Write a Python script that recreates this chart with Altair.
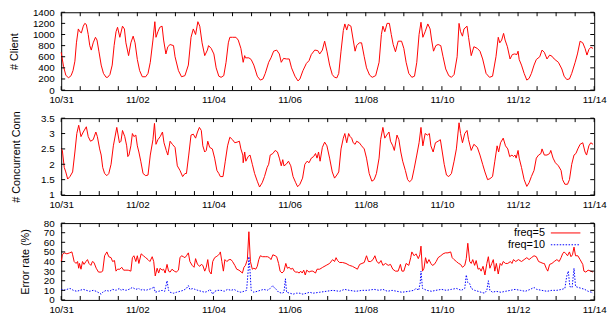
import altair as alt
import pandas as pd

# ---------------- axis ticks / labels ----------------
day_ticks = [0, 2, 4, 6, 8, 10, 12, 14]
day_labels = ["10/31", "11/02", "11/04", "11/06", "11/08", "11/10", "11/12", "11/14"]
half_day_ticks = [0, 0.5, 1, 1.5, 2, 2.5, 3, 3.5, 4, 4.5, 5, 5.5, 6, 6.5, 7, 7.5,
                  8, 8.5, 9, 9.5, 10, 10.5, 11, 11.5, 12, 12.5, 13, 13.5, 14]
client_ticks = [0, 200, 400, 600, 800, 1000, 1200, 1400]
conn_ticks = [1, 1.5, 2, 2.5, 3, 3.5]
err_ticks = [0, 10, 20, 30, 40, 50, 60, 70, 80]

# ---------------- # Client ----------------
client_day = [0.00, 0.06, 0.12, 0.19, 0.26, 0.31, 0.36, 0.40, 0.45, 0.49, 0.53, 0.58, 0.62, 0.66,
              0.71, 0.75, 0.79, 0.84, 0.90, 0.94, 0.99, 1.05, 1.11, 1.18, 1.22, 1.28, 1.34, 1.39,
              1.44, 1.48, 1.54, 1.61, 1.66, 1.70, 1.77, 1.83, 1.89, 1.94, 2.00, 2.06, 2.13, 2.22,
              2.28, 2.34, 2.41, 2.46, 2.49, 2.54, 2.59, 2.65, 2.69, 2.75, 2.80, 2.86, 2.95, 2.99,
              3.08, 3.16, 3.25, 3.34, 3.41, 3.47, 3.53, 3.59, 3.64, 3.70, 3.77, 3.84, 3.87, 3.94,
              4.01, 4.07, 4.14, 4.20, 4.27, 4.33, 4.39, 4.43, 4.50, 4.59, 4.65, 4.72, 4.78, 4.82,
              4.84, 4.93, 4.99, 5.06, 5.15, 5.23, 5.30, 5.36, 5.45, 5.51, 5.58, 5.66, 5.73, 5.78,
              5.84, 5.92, 5.99, 6.05, 6.14, 6.22, 6.27, 6.35, 6.44, 6.51, 6.57, 6.66, 6.74, 6.79,
              6.86, 6.92, 6.98, 7.05, 7.12, 7.18, 7.24, 7.29, 7.35, 7.41, 7.45, 7.50, 7.54, 7.61,
              7.67, 7.72, 7.76, 7.83, 7.89, 7.96, 8.02, 8.10, 8.17, 8.26, 8.35, 8.41, 8.45, 8.50,
              8.56, 8.62, 8.67, 8.72, 8.78, 8.85, 8.94, 9.00, 9.06, 9.13, 9.21, 9.28, 9.34, 9.40,
              9.45, 9.50, 9.56, 9.63, 9.69, 9.73, 9.78, 9.84, 9.90, 9.97, 10.03, 10.10, 10.18,
              10.25, 10.32, 10.40, 10.45, 10.49, 10.54, 10.58, 10.66, 10.70, 10.77, 10.84, 10.93,
              11.00, 11.07, 11.16, 11.25, 11.33, 11.42, 11.48, 11.52, 11.57, 11.62, 11.66, 11.72,
              11.79, 11.85, 11.91, 11.97, 12.00, 12.03, 12.09, 12.16, 12.23, 12.29, 12.35, 12.42,
              12.48, 12.57, 12.63, 12.69, 12.76, 12.83, 12.89, 12.95, 13.06, 13.15, 13.21, 13.28,
              13.35, 13.41, 13.50, 13.56, 13.63, 13.70, 13.76, 13.81, 13.86, 13.91, 13.97]
client_val = [680, 430, 270, 220, 260, 350, 520, 850, 1100, 1050, 1030, 1150, 1200, 1180,
              1000, 800, 720, 850, 950, 900, 700, 450, 300, 230, 230, 280, 450, 800,
              1050, 1130, 950, 1150, 1100, 850, 620, 850, 970, 850, 550, 350, 240, 240,
              300, 500, 900, 1230, 950, 1050, 1130, 1150, 900, 650, 780, 820, 800, 600,
              350, 240, 260, 450, 950, 1100, 1000, 1230, 1150, 850, 620, 720, 800, 750,
              650, 400, 250, 230, 260, 500, 850, 950, 950, 950, 900, 750, 500, 620,
              580, 580, 550, 450, 250, 180, 200, 300, 500, 580, 700, 720, 650, 500,
              570, 560, 560, 400, 250, 165, 200, 350, 480, 530, 640, 720, 710, 650,
              720, 880, 700, 450, 280, 230, 220, 300, 700, 1070, 1190, 1080, 1180, 1150,
              900, 700, 800, 850, 850, 600, 400, 270, 230, 260, 500, 1000, 1150, 1050,
              1200, 1200, 1000, 820, 690, 880, 880, 750, 500, 300, 230, 250, 500, 1000,
              1220, 950, 1050, 1190, 1100, 900, 700, 800, 820, 800, 600, 380, 260,
              230, 280, 600, 1200, 1050, 970, 1100, 1150, 950, 620, 780, 750,
              700, 560, 300, 230, 250, 600, 950, 850, 900, 1020, 900, 780,
              560, 640, 650, 640, 700, 550, 450, 300, 180, 210, 300, 450,
              550, 600, 720, 680, 560, 630, 610, 560, 500, 380, 250, 190,
              200, 300, 500, 650, 880, 850, 750, 630, 730, 770, 750]

# ---------------- # Concurrent Conn ----------------
conn_day = [0.00, 0.03, 0.08, 0.12, 0.17, 0.23, 0.30, 0.36, 0.41, 0.46, 0.52, 0.58, 0.66, 0.71,
            0.77, 0.84, 0.91, 0.95, 1.01, 1.05, 1.09, 1.14, 1.20, 1.25, 1.31, 1.37, 1.46, 1.53,
            1.57, 1.61, 1.67, 1.72, 1.75, 1.78, 1.83, 1.87, 1.91, 1.96, 2.00, 2.04, 2.09, 2.15,
            2.22, 2.28, 2.34, 2.41, 2.45, 2.49, 2.54, 2.60, 2.66, 2.70, 2.76, 2.80, 2.86, 2.92,
            2.99, 3.05, 3.12, 3.19, 3.25, 3.29, 3.35, 3.41, 3.47, 3.53, 3.58, 3.63, 3.68, 3.72,
            3.77, 3.81, 3.85, 3.90, 3.97, 4.03, 4.09, 4.14, 4.18, 4.25, 4.31, 4.37, 4.43, 4.50,
            4.56, 4.62, 4.68, 4.72, 4.77, 4.78, 4.82, 4.85, 4.91, 4.96, 5.02, 5.08, 5.15, 5.21,
            5.28, 5.34, 5.41, 5.45, 5.49, 5.56, 5.62, 5.68, 5.73, 5.78, 5.82, 5.85, 5.91, 5.97,
            6.03, 6.09, 6.16, 6.21, 6.27, 6.34, 6.40, 6.46, 6.51, 6.57, 6.63, 6.68, 6.72, 6.76,
            6.80, 6.86, 6.92, 6.98, 7.05, 7.12, 7.18, 7.24, 7.29, 7.35, 7.41, 7.45, 7.50, 7.55,
            7.59, 7.63, 7.67, 7.72, 7.76, 7.83, 7.89, 7.96, 8.02, 8.09, 8.16, 8.22, 8.28, 8.35,
            8.39, 8.45, 8.50, 8.55, 8.61, 8.65, 8.71, 8.75, 8.82, 8.87, 8.92, 8.97, 9.04, 9.10,
            9.15, 9.21, 9.27, 9.34, 9.40, 9.45, 9.50, 9.56, 9.62, 9.67, 9.71, 9.77, 9.83, 9.90,
            9.96, 10.01, 10.06, 10.12, 10.18, 10.25, 10.32, 10.38, 10.45, 10.49, 10.54, 10.60,
            10.66, 10.70, 10.77, 10.84, 10.93, 11.00, 11.07, 11.13, 11.20, 11.26, 11.33, 11.39,
            11.45, 11.49, 11.54, 11.61, 11.67, 11.73, 11.78, 11.84, 11.88, 11.92, 11.95, 12.00,
            12.03, 12.09, 12.16, 12.23, 12.29, 12.35, 12.42, 12.48, 12.54, 12.60, 12.63, 12.69,
            12.76, 12.83, 12.86, 12.92, 12.98, 13.06, 13.13, 13.17, 13.23, 13.30, 13.35, 13.41,
            13.47, 13.52, 13.57, 13.63, 13.70, 13.76, 13.80, 13.86, 13.91, 13.97]
conn_val = [2.50, 2.45, 1.90, 1.75, 1.52, 1.60, 1.75, 2.40, 3.00, 3.27, 2.90, 3.05, 3.22, 2.90,
            2.75, 2.80, 3.05, 2.90, 2.50, 2.30, 1.90, 1.70, 1.63, 1.70, 2.00, 2.60, 3.20, 2.70,
            2.75, 3.10, 2.90, 2.60, 2.25, 2.30, 2.60, 3.00, 2.90, 2.95, 2.60, 2.40, 2.10, 1.70,
            1.63, 1.65, 2.30, 2.80, 3.33, 2.65, 2.80, 2.90, 3.05, 2.70, 2.45, 2.30, 2.75, 2.65,
            2.55, 1.95, 1.80, 1.60, 1.70, 1.70, 2.30, 2.95, 2.98, 2.85, 3.05, 3.20, 3.10, 2.60,
            2.40, 2.45, 2.75, 2.55, 2.50, 2.20, 1.80, 1.70, 1.60, 1.60, 2.10, 2.60, 2.88, 2.80,
            2.70, 2.72, 2.75, 2.50, 2.30, 2.05, 2.40, 2.10, 2.25, 2.30, 2.00, 1.70, 1.45, 1.26,
            1.40, 1.60, 1.90, 2.00, 2.30, 2.35, 2.45, 2.40, 2.20, 1.95, 2.15, 1.95, 2.00, 2.10,
            1.95, 1.60, 1.40, 1.27, 1.35, 1.55, 2.00, 2.10, 2.05, 2.20, 2.25, 2.35, 2.20, 2.40,
            2.10, 2.55, 2.72, 2.60, 2.20, 1.75, 1.55, 1.65, 1.75, 2.50, 2.85, 3.00, 2.70, 3.00,
            2.90, 2.85, 2.70, 2.65, 2.75, 2.70, 2.60, 2.50, 2.20, 1.70, 1.45, 1.50, 1.70, 2.20,
            2.80, 3.20, 2.85, 2.95, 3.05, 2.75, 2.60, 2.45, 2.95, 2.80, 2.40, 2.10, 1.80, 1.50,
            1.43, 1.50, 1.85, 2.30, 2.70, 3.20, 2.60, 3.00, 2.95, 3.00, 2.60, 2.40, 2.70, 2.75,
            2.80, 2.40, 2.00, 1.65, 1.60, 1.70, 2.10, 2.50, 3.35, 3.00, 2.70, 3.00,
            3.10, 2.80, 2.45, 2.65, 2.55, 2.30, 2.00, 1.75, 1.50, 1.53, 1.60, 2.10,
            2.60, 2.40, 2.70, 2.85, 2.60, 2.50, 2.25, 2.30, 2.25, 2.30, 2.20, 2.45,
            2.20, 1.90, 1.50, 1.28, 1.40, 1.60, 1.80, 2.20, 2.30, 2.35, 2.50, 2.30,
            2.30, 2.35, 2.45, 2.20, 2.05, 1.95, 1.80, 1.50, 1.35, 1.35, 1.50, 2.00,
            2.30, 2.35, 2.50, 2.65, 2.70, 2.40, 2.30, 2.60, 2.70, 2.65]

# ---------------- Error rate, freq=5 ----------------
err5_day = [0.00, 0.03, 0.08, 0.15, 0.22, 0.28, 0.30, 0.34, 0.39, 0.43, 0.46, 0.48, 0.52, 0.56,
            0.60, 0.65, 0.69, 0.73, 0.78, 0.82, 0.86, 0.92, 0.98, 1.05, 1.09, 1.14, 1.20, 1.25,
            1.31, 1.35, 1.40, 1.44, 1.48, 1.54, 1.59, 1.64, 1.70, 1.76, 1.83, 1.87, 1.91, 1.96,
            2.00, 2.04, 2.10, 2.16, 2.22, 2.28, 2.33, 2.39, 2.43, 2.47, 2.52, 2.56, 2.60, 2.65,
            2.69, 2.73, 2.78, 2.82, 2.86, 2.91, 2.97, 3.02, 3.08, 3.12, 3.16, 3.21, 3.25, 3.29,
            3.34, 3.38, 3.44, 3.49, 3.53, 3.58, 3.64, 3.68, 3.72, 3.77, 3.81, 3.85, 3.89, 3.94,
            3.98, 4.03, 4.07, 4.11, 4.16, 4.18, 4.22, 4.26, 4.30, 4.35, 4.41, 4.46, 4.50, 4.56,
            4.61, 4.67, 4.76, 4.80, 4.84, 4.89, 4.93, 4.97, 5.02, 5.06, 5.11, 5.15, 5.19, 5.23,
            5.29, 5.36, 5.42, 5.47, 5.51, 5.56, 5.62, 5.66, 5.71, 5.75, 5.80, 5.85, 5.90, 5.94,
            5.99, 6.03, 6.08, 6.12, 6.16, 6.21, 6.25, 6.29, 6.33, 6.37, 6.41, 6.45, 6.51, 6.56,
            6.61, 6.68, 6.72, 6.79, 6.87, 6.96, 7.05, 7.13, 7.18, 7.22, 7.26, 7.31, 7.39, 7.48,
            7.57, 7.65, 7.74, 7.78, 7.84, 7.90, 7.96, 8.02, 8.07, 8.13, 8.19, 8.24, 8.29, 8.35,
            8.40, 8.45, 8.52, 8.59, 8.65, 8.71, 8.78, 8.85, 8.91, 8.95, 9.00, 9.06, 9.13, 9.18,
            9.21, 9.27, 9.32, 9.38, 9.42, 9.45, 9.49, 9.53, 9.57, 9.61, 9.66, 9.71, 9.75, 9.80,
            9.85, 9.90, 9.97, 10.03, 10.09, 10.16, 10.23, 10.27, 10.32, 10.38, 10.44, 10.49,
            10.54, 10.60, 10.64, 10.68, 10.73, 10.77, 10.81, 10.86, 10.90, 10.95, 10.99, 11.03,
            11.08, 11.13, 11.18, 11.22, 11.26, 11.31, 11.35, 11.39, 11.43, 11.48, 11.53, 11.57,
            11.61, 11.67, 11.73, 11.80, 11.84, 11.88, 11.94, 12.01, 12.09, 12.16, 12.23, 12.29,
            12.35, 12.42, 12.48, 12.54, 12.60, 12.66, 12.69, 12.74, 12.78, 12.83, 12.89, 12.95,
            13.02, 13.08, 13.13, 13.17, 13.21, 13.26, 13.30, 13.35, 13.39, 13.43, 13.47, 13.51,
            13.57, 13.63, 13.70, 13.73, 13.78, 13.84, 13.91, 13.97]
err5_val = [40, 47, 49, 48, 49, 50, 47, 40, 38, 40, 33, 38, 32, 40,
            37, 40, 42, 38, 36, 40, 39, 33, 29, 29, 30, 46, 50, 45,
            44, 40, 41, 30, 32, 32, 34, 31, 31, 31, 30, 44, 46, 40,
            46, 38, 48, 46, 44, 42, 40, 45, 40, 25, 33, 28, 33, 31,
            32, 28, 37, 30, 29, 32, 30, 29, 31, 44, 46, 45, 44, 46,
            49, 40, 36, 34, 43, 37, 35, 37, 36, 30, 34, 42, 30, 27,
            40, 44, 45, 46, 48, 50, 40, 30, 42, 40, 42, 42, 40, 36,
            32, 31, 28, 34, 36, 42, 71, 40, 32, 33, 32, 35, 42, 46,
            45, 45, 45, 44, 42, 47, 46, 45, 38, 30, 28, 30, 38, 33,
            34, 32, 33, 30, 29, 29, 28, 30, 28, 31, 26, 31, 29, 30,
            30, 28, 32, 32, 34, 36, 38, 42, 40, 44, 41, 39, 39, 38,
            36, 35, 33, 32, 37, 38, 39, 46, 40, 40, 42, 46, 40, 38,
            41, 36, 38, 36, 37, 32, 30, 30, 37, 30, 30, 38, 36, 44,
            50, 46, 48, 43, 47, 56, 30, 33, 44, 38, 42, 38, 36, 37,
            40, 44, 46, 48, 49, 49, 50, 44, 42, 40, 38, 37,
            34, 36, 43, 59, 40, 38, 42, 36, 41, 32, 33, 30,
            35, 26, 38, 45, 33, 38, 42, 30, 38, 27, 38, 36,
            40, 38, 38, 40, 38, 42, 40, 42, 40, 42, 44, 42,
            44, 46, 45, 40, 39, 38, 38, 33, 30, 37, 38, 40,
            42, 40, 44, 48, 50, 48, 46, 50, 45, 47, 55, 46,
            46, 42, 37, 30, 29, 31, 30, 29]

# ---------------- Error rate, freq=10 ----------------
err10_day = [0.00, 0.06, 0.15, 0.23, 0.32, 0.41, 0.49, 0.58, 0.66, 0.75, 0.84, 0.92, 1.01, 1.05,
             1.09, 1.18, 1.27, 1.35, 1.44, 1.53, 1.57, 1.61, 1.70, 1.78, 1.87, 1.96, 2.04, 2.09,
             2.13, 2.22, 2.30, 2.39, 2.43, 2.47, 2.56, 2.65, 2.72, 2.78, 2.82, 2.86, 2.95, 3.03,
             3.12, 3.21, 3.29, 3.34, 3.38, 3.47, 3.51, 3.59, 3.68, 3.77, 3.85, 3.91, 3.98, 4.03,
             4.11, 4.20, 4.28, 4.37, 4.46, 4.54, 4.63, 4.72, 4.80, 4.87, 4.91, 4.93, 4.96, 4.99,
             5.06, 5.15, 5.23, 5.32, 5.41, 5.49, 5.56, 5.59, 5.65, 5.71, 5.80, 5.85, 5.89, 5.92,
             6.01, 6.09, 6.18, 6.27, 6.35, 6.44, 6.53, 6.61, 6.79, 6.96, 7.13, 7.31, 7.44, 7.57,
             7.74, 7.91, 8.04, 8.22, 8.35, 8.45, 8.57, 8.69, 8.82, 8.95, 9.13, 9.26, 9.32, 9.39,
             9.43, 9.45, 9.49, 9.60, 9.73, 9.84, 9.99, 10.12, 10.25, 10.38, 10.51, 10.60, 10.64,
             10.68, 10.73, 10.77, 10.86, 10.95, 11.03, 11.12, 11.18, 11.22, 11.26, 11.33, 11.42,
             11.55, 11.67, 11.80, 11.92, 12.06, 12.19, 12.32, 12.42, 12.49, 12.62, 12.76, 12.89,
             13.02, 13.15, 13.23, 13.28, 13.32, 13.36, 13.42, 13.47, 13.51, 13.58, 13.67, 13.75,
             13.84, 13.93, 13.97]
err10_val = [11, 10, 11, 12, 10, 9, 10, 11, 10, 9, 10, 9, 7, 6,
             8, 10, 9, 11, 10, 12, 10, 11, 10, 11, 13, 11, 12, 10,
             11, 10, 11, 12, 14, 8, 9, 10, 9, 20, 10, 8, 7, 8,
             9, 10, 12, 15, 11, 12, 11, 10, 9, 8, 9, 11, 6, 9,
             10, 10, 9, 11, 10, 11, 9, 8, 9, 10, 30, 45, 30, 10,
             8, 9, 10, 11, 10, 12, 15, 13, 11, 8, 7, 8, 22, 8,
             7, 6, 7, 7, 6, 7, 8, 7, 8, 9, 10, 9, 11, 10,
             9, 10, 10, 11, 10, 11, 9, 10, 9, 8, 9, 10, 12, 10,
             18, 30, 12, 10, 9, 10, 11, 10, 11, 12, 10, 12, 26,
             18, 17, 12, 10, 9, 8, 7, 10, 20, 10, 8, 9,
             8, 9, 10, 11, 10, 9, 11, 13, 11, 10, 9, 10,
             10, 11, 12, 25, 30, 14, 13, 33, 14, 13, 12, 11,
             9, 8, 7]

legend_labels = ["freq=5", "freq=10"]

# ---------------- layout constants ----------------
W = 541
FONT = "Liberation Sans"
RED = "#ff0000"
BLUE = "#0000ff"
TICK = 4

# 10/31 + N days, formatted mm/dd (month index 9 = October)
x_label_expr = "timeFormat(datetime(2011, 9, 31 + datum.value, 12), '%m/%d')"
xscale = alt.Scale(domain=[0, 14], nice=False, zero=False)


def x_axis():
    return alt.Axis(values=day_ticks, labelExpr=x_label_expr, title=None, ticks=False,
                    domain=False, grid=False, labelFlush=False, labelOverlap=False,
                    labelPadding=5, labelFont=FONT, labelFontSize=10, labelColor="black")


def y_axis(title, values, tx, fmt):
    return alt.Axis(values=values, title=title, ticks=False, domain=False, grid=False,
                    labelFlush=False, labelOverlap=False, labelPadding=7,
                    titleX=tx, titleBaseline="middle", titleAngle=270,
                    format=fmt, labelFont=FONT, labelFontSize=10,
                    labelColor="black", titleFont=FONT, titleFontSize=11,
                    titleFontWeight="normal", titleColor="black")


def frame_ticks(h, yvals, yscale, xax, yax):
    xt = pd.DataFrame({"day": half_day_ticks})
    yt = pd.DataFrame({"value": yvals})
    bx = alt.Chart(xt).mark_rule(color="black", strokeWidth=1).encode(
        x=alt.X("day:Q", scale=xscale, axis=xax), y=alt.value(h), y2=alt.value(h - TICK))
    tx = alt.Chart(xt).mark_rule(color="black", strokeWidth=1).encode(
        x=alt.X("day:Q", scale=xscale, axis=xax), y=alt.value(0), y2=alt.value(TICK))
    ly = alt.Chart(yt).mark_rule(color="black", strokeWidth=1).encode(
        y=alt.Y("value:Q", scale=yscale, axis=yax), x=alt.value(0), x2=alt.value(TICK))
    ry = alt.Chart(yt).mark_rule(color="black", strokeWidth=1).encode(
        y=alt.Y("value:Q", scale=yscale, axis=yax), x=alt.value(W), x2=alt.value(W - TICK))
    return [bx, tx, ly, ry]


# ---- panel 1 ----
H1 = 79
s1 = alt.Scale(domain=[0, 1400], nice=False)
ax1x = x_axis()
ax1y = y_axis("# Client", client_ticks, -47.5, "d")
df1 = pd.DataFrame({"day": client_day, "value": client_val})
line1 = alt.Chart(df1).mark_line(color=RED, strokeWidth=1).encode(
    x=alt.X("day:Q", scale=xscale, axis=ax1x),
    y=alt.Y("value:Q", scale=s1, axis=ax1y))
p1 = alt.layer(line1, *frame_ticks(H1, client_ticks, s1, ax1x, ax1y)).properties(
    width=W, height=H1)

# ---- panel 2 ----
H2 = 78
s2 = alt.Scale(domain=[1, 3.5], nice=False, zero=False)
ax2x = x_axis()
ax2y = y_axis("# Concurrent Conn", conn_ticks, -45, ".1~f")
df2 = pd.DataFrame({"day": conn_day, "value": conn_val})
line2 = alt.Chart(df2).mark_line(color=RED, strokeWidth=1).encode(
    x=alt.X("day:Q", scale=xscale, axis=ax2x),
    y=alt.Y("value:Q", scale=s2, axis=ax2y))
p2 = alt.layer(line2, *frame_ticks(H2, conn_ticks, s2, ax2x, ax2y)).properties(
    width=W, height=H2)

# ---- panel 3 ----
H3 = 78
s3 = alt.Scale(domain=[0, 80], nice=False)
ax3x = x_axis()
ax3y = y_axis("Error rate (%)", err_ticks, -36.5, "d")
df5 = pd.DataFrame({"day": err5_day, "value": err5_val})
df10 = pd.DataFrame({"day": err10_day, "value": err10_val})
line5 = alt.Chart(df5).mark_line(color=RED, strokeWidth=1).encode(
    x=alt.X("day:Q", scale=xscale, axis=ax3x),
    y=alt.Y("value:Q", scale=s3, axis=ax3y))
line10 = alt.Chart(df10).mark_line(color=BLUE, strokeWidth=1, strokeDash=[1.5, 1.5]).encode(
    x=alt.X("day:Q", scale=xscale, axis=ax3x),
    y=alt.Y("value:Q", scale=s3, axis=ax3y))

leg_df = pd.DataFrame({"label": legend_labels})
leg_t1 = alt.Chart(leg_df).transform_filter(alt.datum.label == "freq=5").mark_text(
    align="right", baseline="middle", font=FONT, fontSize=11, color="black").encode(
    text="label:N", x=alt.value(491), y=alt.value(10))
leg_t2 = alt.Chart(leg_df).transform_filter(alt.datum.label == "freq=10").mark_text(
    align="right", baseline="middle", font=FONT, fontSize=11, color="black").encode(
    text="label:N", x=alt.value(491), y=alt.value(22))
leg_l1 = alt.Chart(leg_df).transform_filter(alt.datum.label == "freq=5").mark_rule(
    color=RED, strokeWidth=1).encode(x=alt.value(497), x2=alt.value(527), y=alt.value(10))
leg_l2 = alt.Chart(leg_df).transform_filter(alt.datum.label == "freq=10").mark_rule(
    color=BLUE, strokeWidth=1, strokeDash=[1.5, 1.5]).encode(
    x=alt.value(497), x2=alt.value(527), y=alt.value(22))

p3 = alt.layer(line5, line10, *frame_ticks(H3, err_ticks, s3, ax3x, ax3y),
               leg_t1, leg_t2, leg_l1, leg_l2).properties(width=W, height=H3)

chart = alt.vconcat(p1, p2, p3, spacing=28.5, bounds="flush").properties(
    padding={"top": -4, "left": 0, "right": 0, "bottom": 0},
    background="white"
).configure_view(stroke="black", strokeWidth=1)

chart.save("out.html", embed_options={"renderer": "svg", "actions": False})
